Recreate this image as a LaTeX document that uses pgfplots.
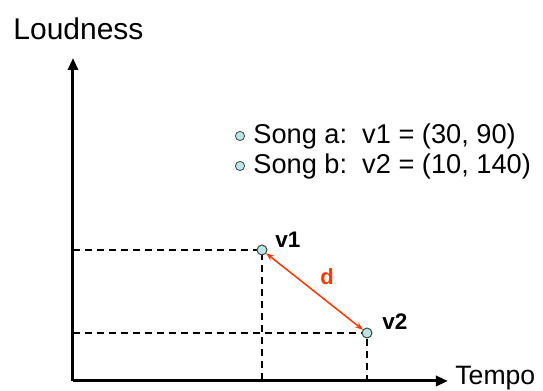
\documentclass[border=0pt]{standalone}
\usepackage{fontspec}
\setmainfont{Liberation Sans}
\usepackage{pgfplots}
\pgfplotsset{compat=1.18}
\usetikzlibrary{arrows.meta}
\definecolor{ptFill}{RGB}{190,228,228}
\definecolor{ptEdge}{RGB}{60,70,70}
\definecolor{dRed}{RGB}{255,55,0}
\begin{document}
\begin{tikzpicture}
\begin{axis}[
  x=0.5pt, y=0.5pt,
  xmin=0, xmax=375, ymin=0, ymax=323,
  axis lines=left,
  axis line style={line width=1.5pt, -{Triangle[length=6pt,width=5pt]}},
  xtick=\empty, ytick=\empty,
  clip=false]
% invisible frame holding the reference's proportions
\path (axis cs:-73,-7) rectangle (axis cs:470,381);
% dashed guides
\addplot[black, line width=0.75pt, dash pattern=on 3.5pt off 2.5pt] coordinates {(0,131) (189,131) (189,0)};
\addplot[black, line width=0.75pt, dash pattern=on 3.5pt off 2.5pt] coordinates {(0,48) (294,48) (294,0)};
% distance arrow
\addplot[dRed, line width=0.75pt, {Stealth[length=4pt,width=3pt]}-{Stealth[length=4pt,width=3pt]}, shorten <=2.6pt, shorten >=2.6pt]
  coordinates {(189,131) (294,48)};
% the two songs
\addplot[only marks, mark=*, mark size=2.5pt, mark options={fill=ptFill, draw=ptEdge, line width=0.5pt}]
  coordinates {(189,131) (294,48)};
% legend bullets
\addplot[only marks, mark=*, mark size=2.3pt, mark options={fill=ptFill, draw=ptEdge, line width=0.4pt}]
  coordinates {(167,245) (167,215)};
\node[anchor=west, font=\fontsize{13.6}{15}\selectfont, inner sep=0pt] at (axis cs:180,245) {Song a:\ \ v1 = (30, 90)};
\node[anchor=west, font=\fontsize{13.6}{15}\selectfont, inner sep=0pt] at (axis cs:180,215) {Song b:\ \ v2 = (10, 140)};
\node[anchor=west, font=\fontsize{11.25}{13}\selectfont\bfseries, inner sep=0pt] at (axis cs:202,141) {v1};
\node[anchor=west, font=\fontsize{11.25}{13}\selectfont\bfseries, inner sep=0pt] at (axis cs:309,59) {v2};
\node[font=\fontsize{11}{13}\selectfont\bfseries, text=dRed, inner sep=0pt] at (axis cs:254,104) {d};
\node[anchor=base west, font=\fontsize{15}{17}\selectfont, inner sep=0pt] at (axis cs:-60,341) {Loudness};
\node[anchor=base west, font=\fontsize{13.3}{15}\selectfont, inner sep=0pt] at (axis cs:382,-4) {Tempo};
\end{axis}
\end{tikzpicture}
\end{document}
